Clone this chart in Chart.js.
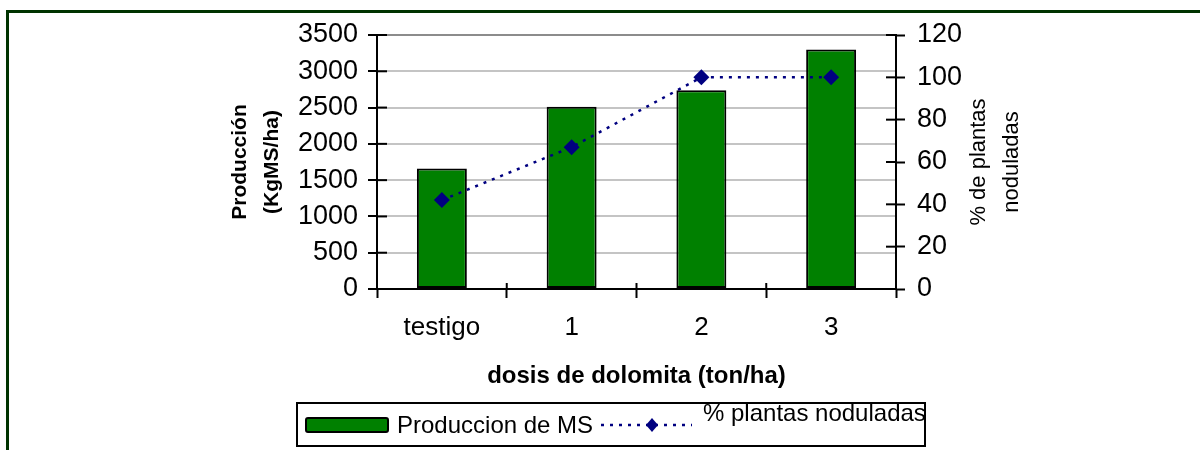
<!DOCTYPE html>
<html>
<head>
<meta charset="utf-8">
<script src="https://cdn.jsdelivr.net/npm/chart.js@4/dist/chart.umd.min.js"></script>
<style>
  body { margin: 0; background: #fff; }
  #wrap { position: relative; width: 1200px; height: 450px; overflow: hidden; }
  #frame { position: absolute; left: 6px; top: 10px; width: 1200px; height: 500px;
           border-left: 3px solid #003300; border-top: 3px solid #003300; }
  canvas { position: absolute; left: 0; top: 0; }
</style>
</head>
<body>
<div id="wrap">
  <div id="frame"></div>
  <canvas id="chart" width="1200" height="450"></canvas>
</div>
<script>
// data
const dosis = ['testigo', '1', '2', '3'];
const produccionMS = [1660, 2510, 2740, 3300];     // KgMS/ha
const plantasNoduladas = [42, 67, 100, 100];       // %

const leftTitle = ['Producción', '(KgMS/ha)'];
const rightTitle = ['% de plantas', 'noduladas'];
const xTitle = 'dosis de dolomita (ton/ha)';

Chart.defaults.font.family = '"Liberation Sans", Arial, sans-serif';
Chart.defaults.color = '#000';

// little black stubs where the ticks cross into the plot
const innerTicks = {
  id: 'innerTicks',
  beforeDatasetsDraw(chart) {
    const ctx = chart.ctx;
    const { y, y1, x } = chart.scales;
    const area = chart.chartArea;
    ctx.save();
    ctx.strokeStyle = '#000';
    ctx.lineWidth = 2;
    y.ticks.forEach(t => {
      const py = y.getPixelForValue(t.value);
      ctx.beginPath(); ctx.moveTo(area.left, py); ctx.lineTo(area.left + 10, py); ctx.stroke();
    });
    y1.ticks.forEach(t => {
      const py = y1.getPixelForValue(t.value);
      ctx.beginPath(); ctx.moveTo(area.right - 10, py); ctx.lineTo(area.right, py); ctx.stroke();
    });
    for (let i = 0; i <= dosis.length; i++) {
      const px = x.getPixelForTick(0) + (i - 0.5) * (x.getPixelForTick(1) - x.getPixelForTick(0));
      ctx.beginPath(); ctx.moveTo(px, area.bottom); ctx.lineTo(px, area.bottom - 6); ctx.stroke();
    }
    ctx.restore();
  }
};

// right axis title (reads bottom to top) and the boxed legend
const extras = {
  id: 'extras',
  afterDraw(chart) {
    const ctx = chart.ctx;
    ctx.save();
    ctx.fillStyle = '#000';
    ctx.textAlign = 'center';
    ctx.textBaseline = 'middle';
    ctx.font = '22px "Liberation Sans", Arial, sans-serif';
    const cy = (chart.chartArea.top + chart.chartArea.bottom) / 2;
    [[979, rightTitle[0]], [1012, rightTitle[1]]].forEach(([cx, txt]) => {
      ctx.save();
      ctx.translate(cx, cy);
      ctx.rotate(-Math.PI / 2);
      ctx.fillText(txt, 0, 0);
      ctx.restore();
    });

    // legend
    const ds = chart.data.datasets;
    ctx.strokeStyle = '#000';
    ctx.lineWidth = 2;
    ctx.strokeRect(297, 403, 628, 43);

    ctx.fillStyle = '#008000';
    ctx.beginPath();
    ctx.roundRect(306, 418, 82, 14, 2);
    ctx.fill();
    ctx.stroke();

    ctx.fillStyle = '#000';
    ctx.textAlign = 'left';
    ctx.font = '24px "Liberation Sans", Arial, sans-serif';
    ctx.fillText(ds[1].label, 397, 426);

    ctx.strokeStyle = '#000080';
    ctx.lineWidth = 2.5;
    ctx.setLineDash([3, 6]);
    ctx.beginPath(); ctx.moveTo(601, 425); ctx.lineTo(692, 425); ctx.stroke();
    ctx.setLineDash([]);
    ctx.fillStyle = '#000080';
    ctx.beginPath();
    ctx.moveTo(652, 418); ctx.lineTo(658, 425); ctx.lineTo(652, 432); ctx.lineTo(646, 425);
    ctx.closePath(); ctx.fill();

    ctx.fillStyle = '#000';
    ctx.fillText(ds[0].label, 703, 414);
    ctx.restore();
  }
};

new Chart(document.getElementById('chart').getContext('2d'), {
  data: {
    labels: dosis,
    datasets: [
      {
        type: 'line',
        label: '% plantas noduladas',
        data: plantasNoduladas,
        yAxisID: 'y1',
        order: 0,
        borderColor: '#000080',
        borderWidth: 2.5,
        borderDash: [3, 6],
        pointStyle: 'rectRot',
        pointRadius: 8,
        pointBackgroundColor: '#000080',
        pointBorderColor: '#000080',
        pointBorderWidth: 0,
        tension: 0
      },
      {
        type: 'bar',
        label: 'Produccion de MS',
        data: produccionMS,
        yAxisID: 'y',
        order: 1,
        backgroundColor: '#008000',
        borderColor: '#000',
        borderWidth: 2,
        borderSkipped: false,
        barPercentage: 0.385,
        categoryPercentage: 1
      }
    ]
  },
  options: {
    responsive: false,
    animation: false,
    layout: { padding: { left: 200, right: 0, top: 35, bottom: 56 } },
    plugins: { legend: { display: false }, tooltip: { enabled: false } },
    scales: {
      x: {
        offset: true,
        afterFit: s => { s.height = 105; },
        grid: { offset: true, drawOnChartArea: false, tickLength: 9, tickColor: '#000', tickWidth: 2 },
        border: { color: '#000', width: 2 },
        ticks: { font: { size: 26 }, padding: 14 },
        title: { display: true, text: xTitle, font: { size: 24, weight: 'bold' }, padding: { top: 0, bottom: 3 } }
      },
      y: {
        position: 'left',
        min: 0, max: 3500,
        afterFit: s => { s.width = 177; },
        grid: {
          color: c => c.tick && c.tick.value === 3500 ? '#8c8c8c' : '#c4c4c4',
          lineWidth: 2, tickLength: 9, tickColor: '#000', tickWidth: 2
        },
        border: { color: '#000', width: 2 },
        ticks: { stepSize: 500, font: { size: 27 }, padding: 10, callback: v => String(v) },
        title: { display: true, text: leftTitle, font: { size: 21, weight: 'bold', lineHeight: 1.52 }, padding: { top: 24, bottom: 0 } }
      },
      y1: {
        position: 'right',
        min: 0, max: 120,
        afterFit: s => { s.width = 304; },
        grid: { drawOnChartArea: false, tickLength: 9, tickColor: '#000', tickWidth: 2 },
        border: { color: '#000', width: 2 },
        ticks: { stepSize: 20, font: { size: 27 }, padding: 12, callback: v => String(v) }
      }
    }
  },
  plugins: [innerTicks, extras]
});
</script>
</body>
</html>
